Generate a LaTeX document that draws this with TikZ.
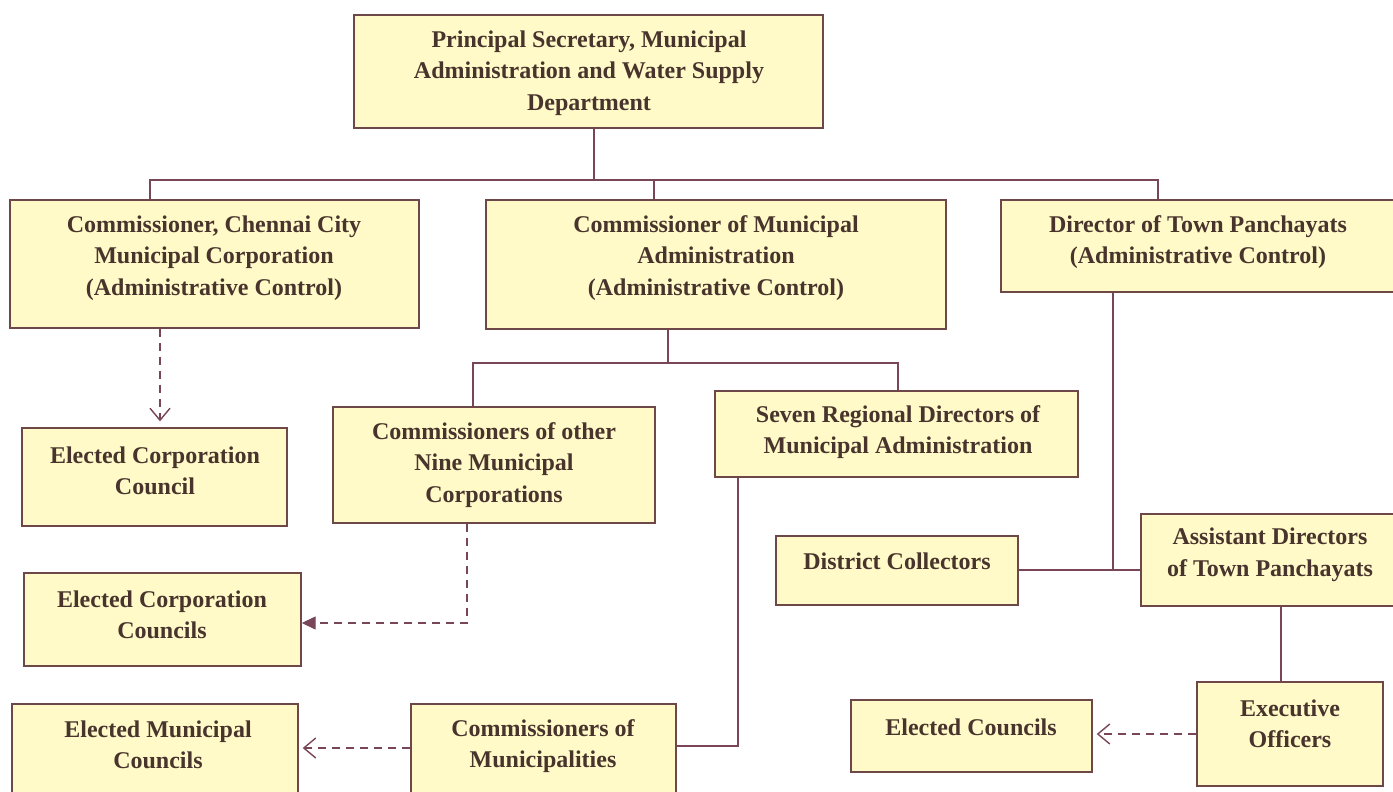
\documentclass[tikz,border=0pt]{standalone}
\usepackage{fontspec}
\setmainfont{Liberation Serif}
\usetikzlibrary{arrows.meta}
\definecolor{boxfill}{RGB}{255,250,200}
\definecolor{boxline}{RGB}{110,72,72}
\definecolor{conn}{RGB}{120,70,88}
\definecolor{txtcol}{RGB}{72,52,44}
\tikzset{
  orgbox/.style={draw=boxline, fill=boxfill, line width=1.4pt, rectangle, inner sep=0pt},
  orgtxt/.style={text=txtcol, align=center, inner sep=0pt, font=\fontsize{24}{31.5}\selectfont\bfseries},
  link/.style={draw=conn, line width=1.4pt},
  dlink/.style={draw=conn, line width=1.4pt, dash pattern=on 8pt off 6pt},
  openhead/.style={-{Straight Barb[length=12pt,width=20pt,line width=1.4pt]}},
  fullhead/.style={-{Triangle[length=14pt,width=13pt]}}
}
\newcommand\mkbox[5]{\node[orgbox, minimum width={(#4-#2)*1pt}, minimum height={(#5-#3)*1pt}] (#1) at ({(#2+#4)/2},{(#3+#5)/2}) {};}
\newcommand\mktext[4]{\node[orgtxt] (#1-t) at (#2,#3) {#4};}
\begin{document}
\begin{tikzpicture}[x=1pt,y=-1pt]
\clip (0,0) rectangle (1393,792);
\fill[white] (0,0) rectangle (1393,792);
% boxes
\mkbox{top}{354}{15}{823}{128}
\mkbox{chennai}{10}{200}{419}{328}
\mkbox{cma}{486}{200}{946}{329}
\mkbox{dtp}{1001}{200}{1396}{292}
\mkbox{ecc}{22}{428}{287}{526}
\mkbox{nine}{333}{407}{655}{523}
\mkbox{seven}{715}{391}{1078}{477}
\mkbox{dc}{776}{536}{1018}{605}
\mkbox{ad}{1141}{514}{1399}{606}
\mkbox{ecctwo}{24}{573}{301}{666}
\mkbox{emc}{12}{704}{298}{800}
\mkbox{com}{411}{704}{676}{800}
\mkbox{ec}{851}{700}{1092}{772}
\mkbox{ex}{1197}{682}{1383}{786}
% texts
\mktext{top}{589}{73}{Principal Secretary, Municipal\\Administration and Water Supply\\Department}
\mktext{chennai}{214}{258}{Commissioner, Chennai City\\Municipal Corporation\\(Administrative Control)}
\mktext{cma}{716}{258}{Commissioner of Municipal\\Administration\\(Administrative Control)}
\mktext{dtp}{1198}{242}{Director of Town Panchayats\\(Administrative Control)}
\mktext{ecc}{155}{471}{Elected Corporation\\Council}
\mktext{nine}{494}{465}{Commissioners of other\\Nine Municipal\\Corporations}
\mktext{seven}{898}{432}{Seven Regional Directors of\\Municipal Administration}
\mktext{dc}{897}{561}{District Collectors}
\mktext{ad}{1270}{555}{Assistant Directors\\of Town Panchayats}
\mktext{ecctwo}{162}{615}{Elected Corporation\\Councils}
\mktext{emc}{158}{745}{Elected Municipal\\Councils}
\mktext{com}{543}{746}{Commissioners of\\Municipalities}
\mktext{ec}{971}{727}{Elected Councils}
\mktext{ex}{1290}{724}{Executive\\Officers}
% junction coordinates
\coordinate (jTop) at (594,180);
\coordinate (jL) at (150,180);
\coordinate (jM) at (654,180);
\coordinate (jR) at (1158,180);
\coordinate (kC) at (160,0);
\coordinate (jCma) at (668,363);
\coordinate (jCL) at (473,363);
\coordinate (jCR) at (898,363);
\coordinate (kN) at (467,623);
\coordinate (kS) at (738,746);
\coordinate (kM) at (0,748);
\coordinate (kD) at (1113,570);
\coordinate (kA) at (1281,0);
% solid connectors
\draw[link] (top.south -| jTop) -- (jTop);
\draw[link] (chennai.north -| jL) -- (jL) -- (jR) -- (dtp.north -| jR);
\draw[link] (jM) -- (cma.north -| jM);
\draw[link] (cma.south -| jCma) -- (jCma);
\draw[link] (nine.north -| jCL) -- (jCL) -- (jCR) -- (seven.north -| jCR);
\draw[link] (seven.south -| kS) -- (kS) -- (kS -| com.east);
\draw[link] (dtp.south -| kD) -- (kD);
\draw[link] (dc.east |- kD) -- (ad.west |- kD);
\draw[link] (ad.south -| kA) -- (ex.north -| kA);
% dashed connectors
\draw[dlink, openhead] (chennai.south -| kC) -- ([yshift=6pt]ecc.north -| kC);
\draw[dlink, fullhead] (nine.south -| kN) -- (kN) -- (kN -| ecctwo.east);
\draw[dlink, openhead] (com.west |- kM) -- ([xshift=4pt]emc.east |- kM);
\draw[dlink, openhead] (ex.west) -- ([xshift=4pt]ex.west -| ec.east);
\end{tikzpicture}
\end{document}
